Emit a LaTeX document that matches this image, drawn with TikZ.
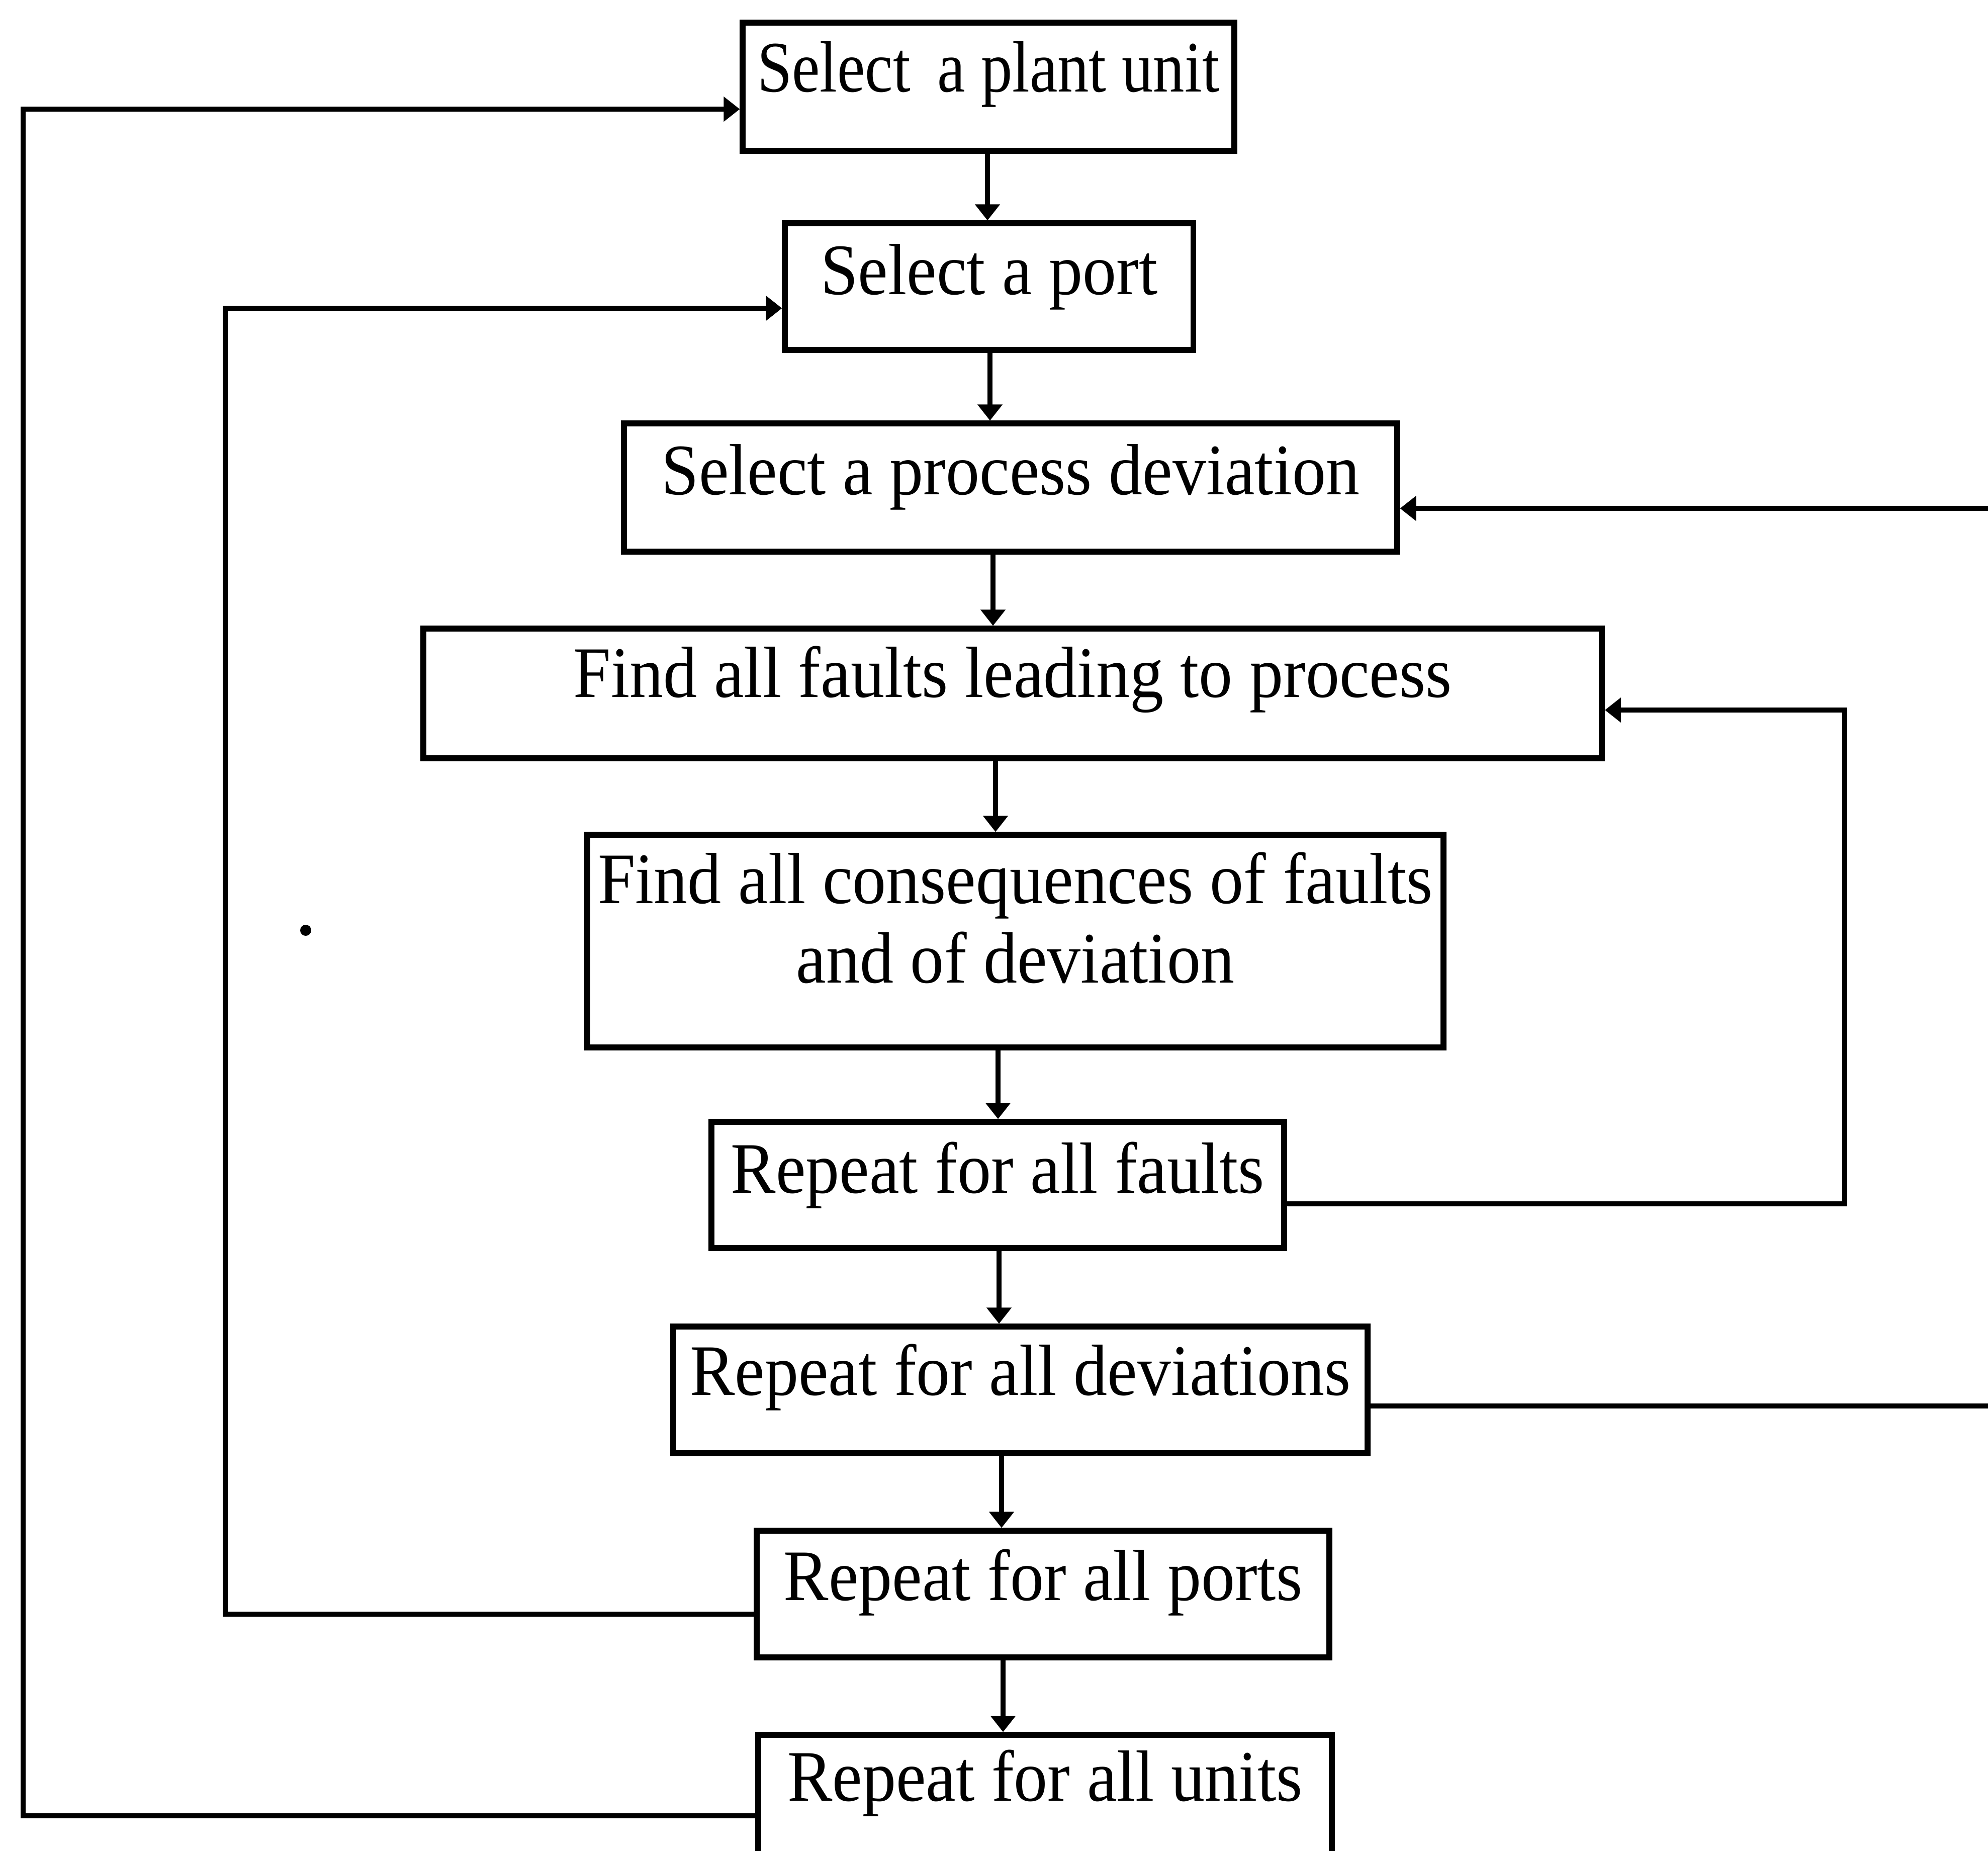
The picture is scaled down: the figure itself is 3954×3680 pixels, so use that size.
\documentclass[tikz,border=0pt]{standalone}
\usepackage{fontspec}
\usetikzlibrary{arrows.meta}
\newfontfamily\boxfont[FakeStretch=0.93]{Liberation Serif}

\begin{document}
\begin{tikzpicture}[x=0.01cm, y=-0.01cm,
    box/.style={draw, line width=3.4pt, inner sep=0pt, outer sep=0pt,
      anchor=north west, align=center,
      font={\boxfont\fontsize{41pt}{45pt}\selectfont}},
    conn/.style={line width=2.9pt},
    arr/.style={conn, -{Triangle[length=0.32cm, width=0.48cm]}, shorten >=1.6pt}]

  \useasboundingbox (0,0) rectangle (3954,3680);
  \fill[white] (0,0) rectangle (3954,3680);
  \clip (0,0) rectangle (3954,3680);

  % process boxes
  \node[box, minimum width=9.77cm,  text height=1.37cm, text depth=1.18cm] (b1) at (1477,45)
    {\scalebox{0.93}[1]{Select\hspace{0.4em}a plant unit}};
  \node[box, minimum width=8.12cm,  text height=1.41cm, text depth=1.11cm] (b2) at (1561,444)  {Select a port};
  \node[box, minimum width=15.37cm, text height=1.41cm, text depth=1.14cm] (b3) at (1241,842)  {Select a process deviation};
  \node[box, minimum width=23.43cm, text height=1.36cm, text depth=1.22cm] (b4) at (842,1250)  {Find all faults leading to process};
  \node[box, minimum width=17.02cm, text height=1.36cm, text depth=2.87cm] (b5) at (1168,1660)
    {\begin{tabular}[t]{@{}c@{}}Find all consequences of faults\\ and of deviation\end{tabular}};
  \node[box, minimum width=11.38cm, text height=1.41cm, text depth=1.10cm] (b6) at (1415,2231) {Repeat for all faults};
  \node[box, minimum width=13.80cm, text height=1.36cm, text depth=1.16cm] (b7) at (1339,2638) {Repeat for all deviations};
  \node[box, minimum width=11.38cm, text height=1.38cm, text depth=1.14cm] (b8) at (1505,3044) {Repeat for all ports};
  \node[box, minimum width=11.40cm, text height=1.31cm, text depth=1.91cm] (b9) at (1508,3450) {Repeat for all units};

  % guide coordinates for the connectors
  \coordinate (xa) at (1964,0);
  \coordinate (xb) at (1969,0);
  \coordinate (xc) at (1975,0);
  \coordinate (xd) at (1980,0);
  \coordinate (xe) at (1985,0);
  \coordinate (xf) at (1987,0);
  \coordinate (xg) at (1992,0);
  \coordinate (xh) at (1995,0);
  \coordinate (xl1) at (46,0);
  \coordinate (xl2) at (448,0);
  \coordinate (xr1) at (3669,0);
  \coordinate (xr2) at (4000,0);
  \coordinate (y1) at (0,217);
  \coordinate (y2) at (0,613);
  \coordinate (y3) at (0,1011);
  \coordinate (y4) at (0,1412);
  \coordinate (y6) at (0,2394);
  \coordinate (y7) at (0,2796);
  \coordinate (y8) at (0,3210);
  \coordinate (y9) at (0,3611);

  % main sequence
  \draw[arr] (b1.south -| xa) -- (b2.north -| xa);
  \draw[arr] (b2.south -| xb) -- (b3.north -| xb);
  \draw[arr] (b3.south -| xc) -- (b4.north -| xc);
  \draw[arr] (b4.south -| xd) -- (b5.north -| xd);
  \draw[arr] (b5.south -| xe) -- (b6.north -| xe);
  \draw[arr] (b6.south -| xf) -- (b7.north -| xf);
  \draw[arr] (b7.south -| xg) -- (b8.north -| xg);
  \draw[arr] (b8.south -| xh) -- (b9.north -| xh);

  % repeat loops
  \draw[arr] (b9.west |- y9) -| (xl1 |- y1) -- (b1.west |- y1);
  \draw[arr] (b8.west |- y8) -| (xl2 |- y2) -- (b2.west |- y2);
  \draw[arr] (b6.east |- y6) -| (xr1 |- y4) -- (b4.east |- y4);
  \draw[arr] (b7.east |- y7) -| (xr2 |- y3) -- (b3.east |- y3);

  % small ink speck
  \fill (608,1850) circle[radius=0.11cm];
\end{tikzpicture}
\end{document}
